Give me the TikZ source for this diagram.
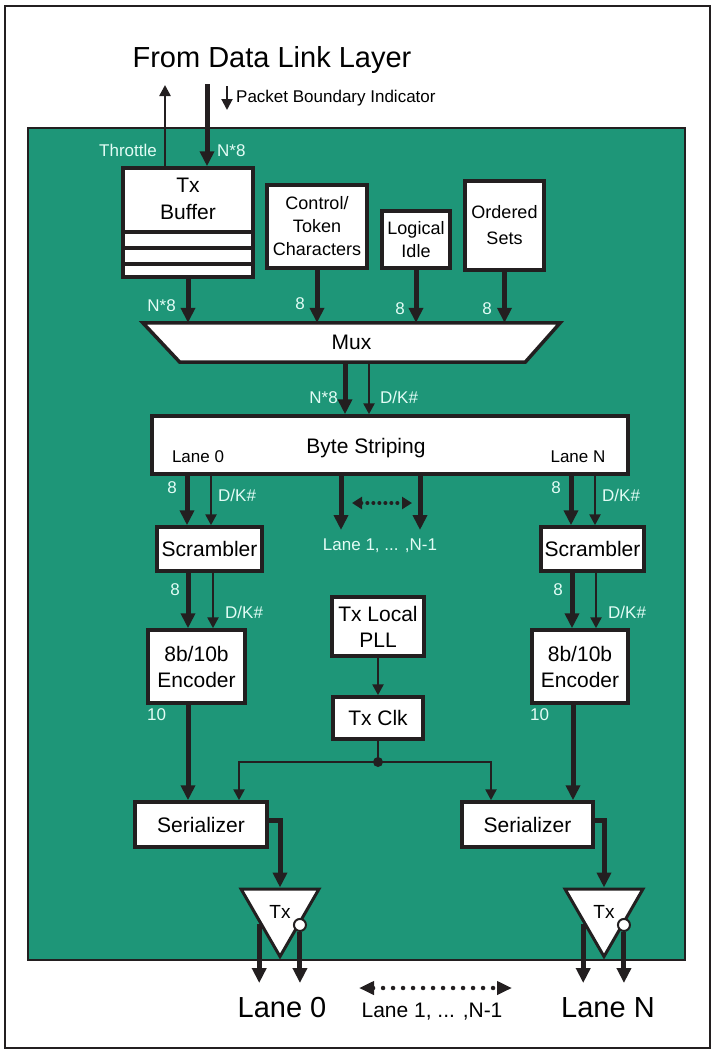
\documentclass[tikz,border=0pt]{standalone}
\usepackage{fontspec}
\setmainfont{Liberation Sans}
\usetikzlibrary{arrows.meta,positioning,calc,shapes.geometric}
\definecolor{phygreen}{HTML}{1E9678}
\definecolor{phyline}{HTML}{231F20}
\definecolor{phylabel}{HTML}{E2FCF5}
\tikzset{
  block/.style={
    draw=phyline,
    line width=3.5pt,
    fill=white,
    align=center,
    inner sep=0pt,
    font=\fontsize{21}{26}\selectfont
  },
  srcblock/.style={
    block,
    font=\fontsize{18}{23}\selectfont
  },
  thickarrow/.style={
    -{Triangle[length=15pt,width=14pt]},
    line width=5pt,
    draw=phyline
  },
  thinarrow/.style={
    -{Triangle[length=11pt,width=11pt]},
    line width=2.5pt,
    draw=phyline
  },
  dotarrow/.style={
    {Triangle[length=10pt,width=12pt]}-{Triangle[length=10pt,width=12pt]},
    line width=4pt,
    line cap=round,
    dash pattern=on 0pt off 7pt,
    draw=phyline
  },
  buslabel/.style={
    text=phylabel,
    inner sep=0pt,
    font=\fontsize{17}{20}\selectfont
  },
  note/.style={
    inner sep=0pt,
    font=\fontsize{17}{20}\selectfont
  },
  big/.style={
    inner sep=0pt,
    font=\fontsize{29}{34}\selectfont
  },
  driver/.style={
    draw=phyline,
    line width=3pt,
    fill=white,
    regular polygon,
    regular polygon sides=3,
    shape border rotate=180,
    minimum size=90pt,
    inner sep=0pt,
    font=\fontsize{19}{22}\selectfont
  },
  bubble/.style={
    circle,
    draw=phyline,
    line width=2pt,
    fill=white,
    minimum size=12pt,
    inner sep=0pt
  }
}

\begin{document}
\begin{tikzpicture}[x=1pt, y=-1pt]
\useasboundingbox (0,0) rectangle (715,1053);

% frame and block area
\draw[line width=2.5pt, draw=phyline] (5,6) rectangle (710,1048);
\draw[line width=2pt, draw=phyline, fill=phygreen] (28,128) rectangle (685,960);

\node[big, anchor=base] (title) at (272,67) {From Data Link Layer};

% sources
\node[block, minimum width=130pt, minimum height=109pt] (txbuf) at (188,222.5) {};
\node[align=center, font=\fontsize{21}{27}\selectfont] (txbuftext) at (188,199) {Tx\\Buffer};
\foreach \y in {232,248,264}
  \draw[line width=4pt, draw=phyline] (txbuf.west |- 0,\y) -- (txbuf.east |- 0,\y);

\node[srcblock, minimum width=100pt, minimum height=83pt] (ctrl) at (317,226.5) {Control/\\Token\\Characters};
\node[srcblock, minimum width=68pt, minimum height=57pt] (idle) at (416,239.5) {Logical\\Idle};
\node[srcblock, font=\fontsize{18}{26}\selectfont, minimum width=79pt, minimum height=89pt] (osets) at (504.5,225.5) {Ordered\\Sets};

% mux: trapezoid drawn on the corners of its node
\node[inner sep=0pt, font=\fontsize{21}{26}\selectfont, minimum width=417pt, minimum height=39pt] (mux) at (351.5,342.5) {};
\draw[draw=phyline, line width=3.5pt, fill=white]
  (mux.north west) -- (mux.north east) -- ([xshift=-35pt]mux.south east) -- ([xshift=37pt]mux.south west) -- cycle;
\node[font=\fontsize{21}{26}\selectfont, inner sep=0pt] (muxtext) at (mux.center) {Mux};

\node[block, minimum width=476pt, minimum height=58pt] (bstripe) at (390,445) {};
\node[anchor=base, inner sep=0pt, font=\fontsize{21}{26}\selectfont] (bstext) at (366,453) {Byte Striping};
\node[note, anchor=base] (bslane0) at (198,462) {Lane 0};
\node[note, anchor=base] (bslaneN) at (578,462) {Lane N};

% lane 0 / lane N
\node[block, minimum width=105pt, minimum height=44pt] (scr0) at (209.5,549) {Scrambler};
\node[block, minimum width=103pt, minimum height=44pt] (scrN) at (592.5,549) {Scrambler};
\node[block, minimum width=97pt, minimum height=73pt] (enc0) at (196.5,666.5) {8b/10b\\Encoder};
\node[block, minimum width=96pt, minimum height=73pt] (encN) at (580,666.5) {8b/10b\\Encoder};
\node[block, minimum width=92pt, minimum height=59pt] (pll) at (378,626.5) {Tx Local\\PLL};
\node[block, minimum width=90pt, minimum height=42pt] (clk) at (378,718) {Tx Clk};
\node[block, minimum width=132pt, minimum height=45pt] (ser0) at (201,824.5) {Serializer};
\node[block, minimum width=131pt, minimum height=45pt] (serN) at (527.5,824.5) {Serializer};
\node[driver] (tx0) at (280,911.5) {Tx};
\node[driver] (txN) at (604,911.5) {Tx};
\node[bubble] (inv0) at ($(tx0.corner 2)!0.52!(tx0.corner 1)$) {};
\node[bubble] (invN) at ($(txN.corner 2)!0.52!(txN.corner 1)$) {};

\node[big, anchor=base] (lane0) at (282,1017) {Lane 0};
\node[big, anchor=base] (laneN) at (608,1017) {Lane N};
\node[anchor=base, inner sep=0pt, font=\fontsize{21}{26}\selectfont] (lanemid) at (432,1017) {Lane 1, ... ,N-1};

% data link layer interface
\coordinate (thrtop) at (165,85);
\coordinate (dlltop) at (207,84);
\coordinate (pbitop) at (227,86);
\coordinate (pbibot) at (227,110);
\draw[thinarrow] (txbuf.north -| thrtop) -- (thrtop);
\draw[thickarrow] (dlltop) -- (dlltop |- txbuf.north);
\draw[thinarrow, line width=2pt] (pbitop) -- (pbibot);
\node[note, anchor=base west] (pbi) at (236,102) {Packet Boundary Indicator};
\node[buslabel, anchor=base east] (thrlabel) at (157,156) {Throttle};
\node[buslabel, anchor=base west] (inlabel) at (217,156) {N*8};

% into mux
\draw[thickarrow] (txbuf.south) -- (txbuf.south |- mux.north);
\draw[thickarrow] (ctrl.south) -- (ctrl.south |- mux.north);
\draw[thickarrow] (idle.south) -- (idle.south |- mux.north);
\draw[thickarrow] (osets.south) -- (osets.south |- mux.north);
\node[buslabel, anchor=base east] at (176,311) {N*8};
\node[buslabel, anchor=base east] at (305,309) {8};
\node[buslabel, anchor=base east] at (405,314) {8};
\node[buslabel, anchor=base east] at (492,314) {8};

% mux to byte striping
\draw[thickarrow] (mux.south -| 345,0) -- (bstripe.north -| 345,0);
\draw[thinarrow] (mux.south -| 369,0) -- (bstripe.north -| 369,0);
\node[buslabel, anchor=base east] at (338,403) {N*8};
\node[buslabel, anchor=base west] at (380,403) {D/K\#};

% byte striping to scramblers
\draw[thickarrow] (bstripe.south -| 187,0) -- (scr0.north -| 187,0);
\draw[thinarrow] (bstripe.south -| 211,0) -- (scr0.north -| 211,0);
\draw[thickarrow] (bstripe.south -| 571,0) -- (scrN.north -| 571,0);
\draw[thinarrow] (bstripe.south -| 595,0) -- (scrN.north -| 595,0);
\node[buslabel, anchor=base east] at (177,493) {8};
\node[buslabel, anchor=base west] at (218,501) {D/K\#};
\node[buslabel, anchor=base east] at (561,493) {8};
\node[buslabel, anchor=base west] at (602,501) {D/K\#};

\coordinate (lanemida) at (341,530);
\coordinate (lanemidb) at (420,530);
\draw[thickarrow] (bstripe.south -| lanemida) -- (lanemida);
\draw[thickarrow] (bstripe.south -| lanemidb) -- (lanemidb);
\draw[dotarrow, dash pattern=on 0pt off 6pt] (352,503) -- (412,503);
\node[buslabel, anchor=base] at (380,550) {Lane 1, ... ,N-1};

% scramblers to encoders
\draw[thickarrow] (scr0.south -| 188,0) -- (enc0.north -| 188,0);
\draw[thinarrow] (scr0.south -| 213,0) -- (enc0.north -| 213,0);
\draw[thickarrow] (scrN.south -| 572,0) -- (encN.north -| 572,0);
\draw[thinarrow] (scrN.south -| 596,0) -- (encN.north -| 596,0);
\node[buslabel, anchor=base east] at (180,595) {8};
\node[buslabel, anchor=base west] at (225,618) {D/K\#};
\node[buslabel, anchor=base east] at (563,595) {8};
\node[buslabel, anchor=base west] at (608,618) {D/K\#};

% encoders to serializers
\draw[thickarrow] (enc0.south -| 188,0) -- (ser0.north -| 188,0);
\draw[thickarrow] (encN.south -| 573,0) -- (serN.north -| 573,0);
\node[buslabel, anchor=base west] at (147,720) {10};
\node[buslabel, anchor=base west] at (530,720) {10};

% clock
\draw[thinarrow] (pll) -- (clk);
\coordinate (clkdot) at (clk.south |- 0,762);
\draw[line width=2.5pt, draw=phyline] (clk.south) -- (clkdot);
\draw[thinarrow] (clkdot) -| (ser0.north -| 239,0);
\draw[thinarrow] (clkdot) -| (serN.north -| 491,0);
\fill[phyline] (clkdot) circle (5pt);

% serializers to drivers
\draw[thickarrow] ([yshift=4pt]ser0.east) -| (tx0.north);
\draw[thickarrow] ([yshift=4pt]serN.east) -| (txN.north);

% lane outputs
\coordinate (out0) at ($(tx0.corner 3)!0.5!(tx0.corner 1)$);
\coordinate (outN) at ($(txN.corner 3)!0.5!(txN.corner 1)$);
\draw[thickarrow] (out0) -- (out0 |- 0,983);
\draw[thickarrow] (inv0.south) -- (inv0.south |- 0,983);
\draw[thickarrow] (outN) -- (outN |- 0,983);
\draw[thickarrow] (invN.south) -- (invN.south |- 0,983);
\draw[dotarrow, line width=4.5pt, dash pattern=on 0pt off 10pt,
  {Triangle[length=15pt,width=13pt]}-{Triangle[length=15pt,width=13pt]}] (359,988) -- (512,988);

\end{tikzpicture}
\end{document}
